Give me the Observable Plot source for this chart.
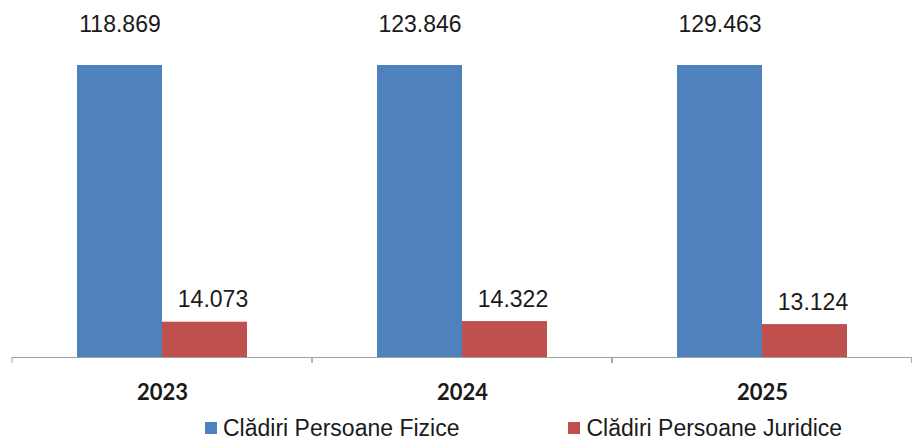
<!DOCTYPE html>
<html>
<head>
<meta charset="utf-8">
<script src="https://cdn.jsdelivr.net/npm/d3@7"></script>
<script src="https://cdn.jsdelivr.net/npm/@observablehq/plot@0.6"></script>
<style>
  body { margin: 0; background: #fff; overflow: hidden; }
  #chart svg { display: block; }
  .legend { display: flex; align-items: center; height: 30px; padding-left: 205px; padding-top: 6px;
    box-sizing: border-box;
    font-family: "Liberation Sans", Arial, sans-serif; font-size: 23px; color: #1a1a1a; }
  .legend .item { display: flex; align-items: center; }
  .legend .item + .item { margin-left: 109px; }
  .legend .sw { width: 12px; height: 12px; margin-right: 6px; }
</style>
</head>
<body>
<div id="chart"></div>
<script>
const years = ["2023", "2024", "2025"];
const seriesNames = ["Clădiri Persoane Fizice", "Clădiri Persoane Juridice"];
const fizice = [118869, 123846, 129463];
const juridice = [14073, 14322, 13124];
const colors = ["#4f81bd", "#c0504d"];
const yVisibleMax = 116400; // chart frame cuts the tall bars

const data = [];
years.forEach((y, i) => {
  data.push({year: y, series: seriesNames[0], value: fizice[i]});
  data.push({year: y, series: seriesNames[1], value: juridice[i]});
});

const fmt = d3.formatLocale({decimal: ",", thousands: ".", grouping: [3], currency: ["", ""]}).format(",");

function boundaryTicks(index, scales, values, dimensions) {
  const g = d3.create("svg:g");
  const fx = scales.fx;
  const xs = years.map(y => fx(y));
  xs.push(fx(years[years.length - 1]) + fx.bandwidth());
  const y0 = dimensions.height - dimensions.marginBottom;
  for (const x of xs) {
    g.append("line").attr("x1", x).attr("x2", x).attr("y1", y0).attr("y2", y0 + 6)
      .attr("stroke", "#a0a0a0").attr("stroke-width", 1);
  }
  return g.node();
}

const plot = Plot.plot({
  width: 912,
  height: 410,
  marginLeft: 12,
  marginRight: 0,
  marginTop: 65,
  marginBottom: 53,
  style: {fontFamily: "Liberation Sans, Arial, sans-serif", background: "#fff"},
  fx: {domain: years, padding: 0, label: null},
  x: {domain: seriesNames, paddingInner: 0, paddingOuter: 0.745, axis: null},
  y: {domain: [0, yVisibleMax], axis: null},
  color: {domain: seriesNames, range: colors},
  marks: [
    Plot.barY(data, {fx: "year", x: "series", y: "value", fill: "series", clip: true, inset: 0}),
    Plot.ruleY([0], {stroke: "#a0a0a0", strokeWidth: 1}),
    Plot.text(data.filter(d => d.series === seriesNames[0]), {
      fx: "year", x: "series", text: d => fmt(d.value), frameAnchor: "top", lineAnchor: "bottom", dy: -34,
      fontSize: 23, fill: "#1a1a1a"
    }),
    Plot.text(data.filter(d => d.series === seriesNames[1]), {
      fx: "year", x: "series", y: "value", text: d => fmt(d.value), lineAnchor: "bottom", dy: -15, dx: 8,
      fontSize: 23, fill: "#1a1a1a"
    }),
    Plot.axisFx({anchor: "bottom", tickSize: 0, tickPadding: 27, fontSize: 22, fontWeight: "bold",
      fontFamily: "Lato, Liberation Sans, sans-serif", fill: "#1a1a1a", label: null}),
    boundaryTicks
  ]
});
document.getElementById("chart").appendChild(plot);

const legend = document.createElement("div");
legend.className = "legend";
seriesNames.forEach((name, i) => {
  const item = document.createElement("div");
  item.className = "item";
  const sw = document.createElement("span");
  sw.className = "sw";
  sw.style.background = colors[i];
  const lab = document.createElement("span");
  lab.textContent = name;
  item.appendChild(sw);
  item.appendChild(lab);
  legend.appendChild(item);
});
document.getElementById("chart").appendChild(legend);
</script>
</body>
</html>
